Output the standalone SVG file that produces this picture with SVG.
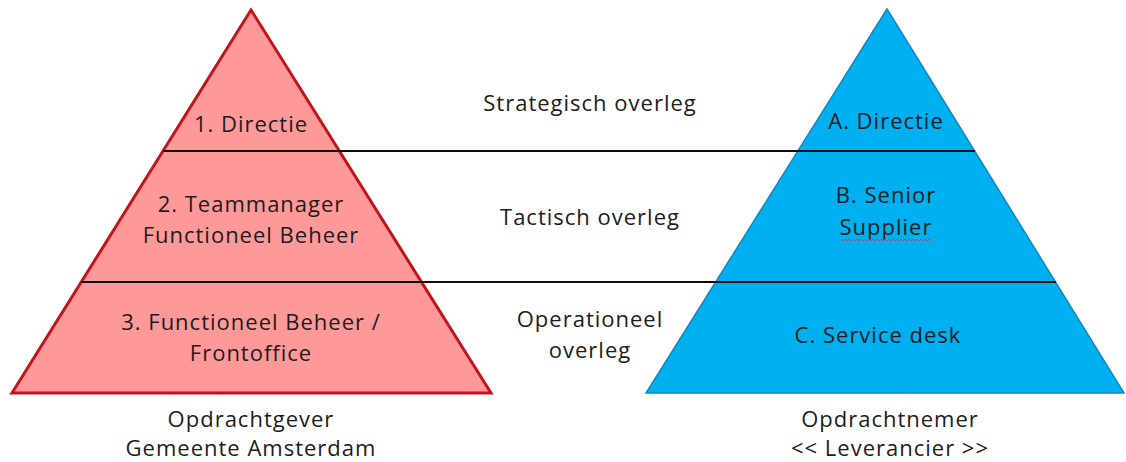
<svg xmlns="http://www.w3.org/2000/svg" width="1126" height="462" viewBox="0 0 1126 462">
  <style>
    .lbl { font-family: "Open Sans", "Noto Sans", "DejaVu Sans", sans-serif; font-size: 22px; letter-spacing: 1px; fill: #1c1c1c; text-anchor: middle; }
    .client { fill: #ff9999; stroke: #c0151d; stroke-width: 3; stroke-linejoin: miter; }
    .supplier { fill: #00b0f0; stroke: #1387bd; stroke-width: 1.5; }
    .link { stroke: #0d0d0d; stroke-width: 2.2; fill: none; }
    .squiggle { stroke: #c2407a; stroke-width: 1; fill: none; }
  </style>

  <rect width="1126" height="462" fill="#ffffff"/>

  <!-- Client pyramid -->
  <g id="client-pyramid">
    <polygon class="client" points="251,10 12,393 491,393"/>
  </g>

  <!-- Supplier pyramid -->
  <g id="supplier-pyramid">
    <polygon class="supplier" points="887,9 646,393 1124,393"/>
  </g>

  <!-- Level lines shared by both pyramids -->
  <g id="connectors">
    <line class="link" x1="163" y1="151" x2="975" y2="151"/>
    <line class="link" x1="81" y1="282" x2="1056" y2="282"/>
  </g>

  <!-- Client tiers -->
  <g id="tier-1-directie">
    <text class="lbl" x="251" y="132">1. Directie</text>
  </g>
  <g id="tier-2-teammanager">
    <text class="lbl" x="251" y="212">2. Teammanager</text>
    <text class="lbl" x="251" y="243">Functioneel Beheer</text>
  </g>
  <g id="tier-3-functioneel-beheer">
    <text class="lbl" x="251" y="330">3. Functioneel Beheer /</text>
    <text class="lbl" x="251" y="361">Frontoffice</text>
  </g>

  <!-- Supplier tiers -->
  <g id="tier-a-directie">
    <text class="lbl" x="886" y="129">A. Directie</text>
  </g>
  <g id="tier-b-senior-supplier">
    <text class="lbl" x="886" y="203">B. Senior</text>
    <text class="lbl" x="886" y="235">Supplier</text>
    <path class="squiggle" d="M841,239 l2,2 l2,-2 l2,2 l2,-2 l2,2 l2,-2 l2,2 l2,-2 l2,2 l2,-2 l2,2 l2,-2 l2,2 l2,-2 l2,2 l2,-2 l2,2 l2,-2 l2,2 l2,-2 l2,2 l2,-2 l2,2 l2,-2 l2,2 l2,-2 l2,2 l2,-2 l2,2 l2,-2 l2,2 l2,-2 l2,2 l2,-2 l2,2 l2,-2 l2,2 l2,-2 l2,2 l2,-2 l2,2 l2,-2 l2,2 l2,-2 l2,2"/>
  </g>
  <g id="tier-c-service-desk">
    <text class="lbl" x="878" y="343">C. Service desk</text>
  </g>

  <!-- Consultation levels -->
  <g id="strategisch-overleg">
    <text class="lbl" x="590" y="111">Strategisch overleg</text>
  </g>
  <g id="tactisch-overleg">
    <text class="lbl" x="590" y="225">Tactisch overleg</text>
  </g>
  <g id="operationeel-overleg">
    <text class="lbl" x="590" y="327">Operationeel</text>
    <text class="lbl" x="590" y="358">overleg</text>
  </g>

  <!-- Parties -->
  <g id="opdrachtgever">
    <text class="lbl" x="251" y="427">Opdrachtgever</text>
    <text class="lbl" x="251" y="456">Gemeente Amsterdam</text>
  </g>
  <g id="opdrachtnemer">
    <text class="lbl" x="890" y="427">Opdrachtnemer</text>
    <text class="lbl" x="890" y="456">&lt;&lt; Leverancier &gt;&gt;</text>
  </g>
</svg>
